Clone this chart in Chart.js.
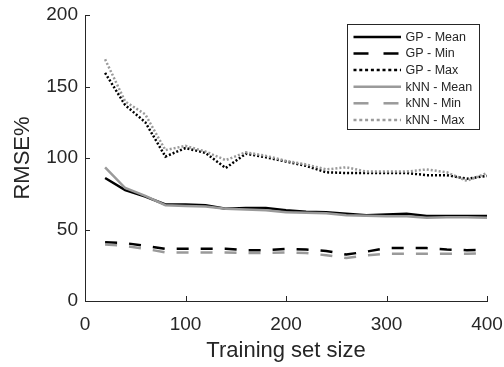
<!DOCTYPE html>
<html>
<head>
<meta charset="utf-8">
<script src="https://cdn.jsdelivr.net/npm/chart.js@4/dist/chart.umd.min.js"></script>
<style>
  html, body { margin: 0; padding: 0; background: #fff; }
  canvas { display: block; }
</style>
</head>
<body>
<canvas id="rmseChart" width="504" height="367"></canvas>
<script>
/* ---------------- DATA ---------------- */
const trainSize = [20, 40, 60, 80, 100, 120, 140, 160, 180, 200, 220, 240, 260, 280, 300, 320, 340, 360, 380, 400];

const gpMean  = [86, 77.5, 73, 67.5, 67.5, 67, 64.5, 65, 65, 63.5, 62.5, 62, 61, 60, 60.5, 61, 59.5, 59.5, 59.5, 59.5];
const gpMin   = [41, 40.5, 38.5, 36.5, 36.5, 36.5, 36.5, 35.5, 35.5, 36.5, 36, 35, 32.5, 34.5, 37, 37, 37, 36, 35.5, 36];
const gpMax   = [159.5, 137, 125, 101, 107, 103.5, 93, 103, 100.5, 97.5, 94.5, 90, 89.5, 89.5, 89.5, 89.5, 88, 88, 85.5, 87.5];

const knnMean = [93.5, 79, 73.5, 67, 66.5, 66, 64.5, 64, 63.5, 62, 61.8, 61.3, 60, 59.6, 59.2, 59.2, 58.3, 58.5, 58.5, 58.3];
const knnMin  = [39.5, 38.5, 36.5, 34, 34, 34, 34, 33.5, 33.5, 34, 33.5, 32, 30, 32, 33, 33, 33, 33, 33, 33.5];
const knnMax  = [169, 139.5, 130.5, 105.5, 108.5, 104.5, 98.5, 104, 101.5, 98, 95.5, 92, 93.5, 90.5, 90.5, 90.5, 92, 90, 84, 89.5];

const seriesNames = ["GP - Mean", "GP - Min", "GP - Max", "kNN - Mean", "kNN - Min", "kNN - Max"];
const xTicks = [0, 100, 200, 300, 400];
const yTicks = [0, 50, 100, 150, 200];

/* ---------------- STYLE ---------------- */
const INK = "#262626";
const BLACK = "#000000";
const GRAY = "#9a9a9a";
const FONT = "'Liberation Sans', Arial, sans-serif";
const SOLID = [];
const DASH = [12, 12];
const DOT = [2, 2];

function pts(arr) {
  return trainSize.map((x, i) => ({ x, y: arr[i] }));
}

function ds(label, arr, color, dash, legendDash, order) {
  return {
    label,
    data: pts(arr),
    borderColor: color,
    backgroundColor: color,
    borderWidth: 2.5,
    borderDash: dash,
    borderCapStyle: "butt",
    pointRadius: 0,
    tension: 0,
    fill: false,
    order,
    legendDash
  };
}

// keep chart.js from adding room for the edge tick labels
function noEdgePad(s) {
  s.paddingLeft = 0;
  s.paddingRight = 0;
  s.paddingTop = 0;
  s.paddingBottom = 0;
}

/* ---------------- PLUGINS ---------------- */
// tick marks pointing into the plot area
const innerTicks = {
  id: "innerTicks",
  afterDraw(chart) {
    const { ctx, chartArea, scales } = chart;
    ctx.save();
    ctx.strokeStyle = INK;
    ctx.lineWidth = 1;
    xTicks.forEach((v) => {
      const px = Math.round(scales.x.getPixelForValue(v)) + 0.5;
      ctx.beginPath();
      ctx.moveTo(px, chartArea.bottom);
      ctx.lineTo(px, chartArea.bottom - 5);
      ctx.stroke();
    });
    yTicks.forEach((v) => {
      const py = Math.round(scales.y.getPixelForValue(v)) + 0.5;
      ctx.beginPath();
      ctx.moveTo(chartArea.left, py);
      ctx.lineTo(chartArea.left + 5, py);
      ctx.stroke();
    });
    ctx.restore();
  }
};

// boxed legend in the upper right corner
const boxLegend = {
  id: "boxLegend",
  afterDraw(chart) {
    const { ctx, chartArea } = chart;
    const right = Math.round(chartArea.right) - 7.5;
    const left = right - 132;
    const top = Math.round(chartArea.top) + 9.5;
    const rowH = 16.6;
    const height = 105;

    ctx.save();
    ctx.fillStyle = "#fff";
    ctx.fillRect(left, top, right - left, height);
    ctx.strokeStyle = INK;
    ctx.lineWidth = 1;
    ctx.strokeRect(left, top, right - left, height);

    ctx.font = "12.5px " + FONT;
    ctx.textBaseline = "middle";
    ctx.textAlign = "left";

    chart.data.datasets.forEach((d, i) => {
      const y = top + 12.4 + i * rowH;
      ctx.strokeStyle = d.borderColor;
      ctx.lineWidth = 2.5;
      ctx.lineCap = "butt";
      ctx.setLineDash(d.legendDash);
      ctx.beginPath();
      ctx.moveTo(left + 6, y);
      ctx.lineTo(left + 53.5, y);
      ctx.stroke();
      ctx.setLineDash([]);
      ctx.fillStyle = INK;
      ctx.fillText(d.label, left + 58, y + 0.5);
    });
    ctx.restore();
  }
};

/* ---------------- CHART ---------------- */
new Chart(document.getElementById("rmseChart"), {
  type: "line",
  data: {
    datasets: [
      ds(seriesNames[0], gpMean, BLACK, SOLID, SOLID, 1),
      ds(seriesNames[1], gpMin, BLACK, DASH, [15, 15], 1),
      ds(seriesNames[2], gpMax, BLACK, DOT, [3, 2.8], 1),
      ds(seriesNames[3], knnMean, GRAY, SOLID, SOLID, 0),
      ds(seriesNames[4], knnMin, GRAY, DASH, [15, 15], 0),
      ds(seriesNames[5], knnMax, GRAY, DOT, [3, 2.8], 0)
    ]
  },
  options: {
    responsive: false,
    animation: false,
    devicePixelRatio: 1,
    layout: { padding: { top: 15, right: 17, left: 0, bottom: 0 } },
    plugins: {
      legend: { display: false },
      tooltip: { enabled: false }
    },
    scales: {
      x: {
        type: "linear",
        min: 0,
        max: 400,
        afterFit: (s) => { s.height = 66; noEdgePad(s); },
        afterBuildTicks: (s) => { s.ticks = xTicks.map((v) => ({ value: v })); },
        ticks: {
          color: INK,
          padding: 12,
          font: { family: FONT, size: 19 }
        },
        grid: { drawOnChartArea: false, drawTicks: false },
        border: { display: true, color: INK, width: 1 },
        title: {
          display: true,
          text: "Training set size",
          color: INK,
          padding: { top: 0, bottom: 3 },
          font: { family: FONT, size: 22 }
        }
      },
      y: {
        type: "linear",
        min: 0,
        max: 200,
        afterFit: (s) => { s.width = 85; noEdgePad(s); },
        afterBuildTicks: (s) => { s.ticks = yTicks.map((v) => ({ value: v })); },
        ticks: {
          color: INK,
          padding: 7,
          font: { family: FONT, size: 19 }
        },
        grid: { drawOnChartArea: false, drawTicks: false },
        border: { display: true, color: INK, width: 1 },
        title: {
          display: true,
          text: "RMSE%",
          color: INK,
          padding: { top: 10, bottom: 0 },
          font: { family: FONT, size: 22 }
        }
      }
    }
  },
  plugins: [innerTicks, boxLegend]
});
</script>
</body>
</html>
